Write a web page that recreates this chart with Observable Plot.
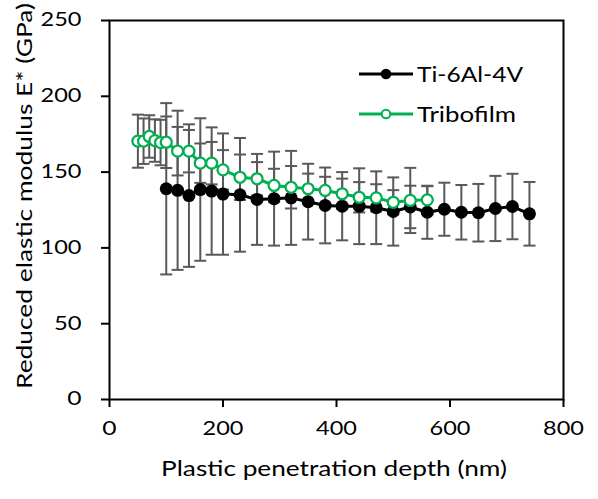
<!DOCTYPE html>
<html><head><meta charset="utf-8">
<script src="https://cdn.jsdelivr.net/npm/d3@7"></script>
<script src="https://cdn.jsdelivr.net/npm/@observablehq/plot@0.6"></script>
<style>
body{margin:0;background:#fff;}
#chart{position:relative;width:598px;height:499px;}
</style></head><body><div id="chart"></div>
<script>
const depthTi=[100,120,140,160,180,200,230,260,290,320,350,380,410,440,470,500,530,560,590,620,650,680,710,740];
const modTi=[139,138,134.5,138.5,137.5,135.5,135,132,132.5,133,130.5,128,127.5,127.5,126.5,124,127,123.5,125.5,123.5,123.2,126,127.3,122.5];
const errTi=[56.5,52.5,47,47,42,40,37.5,30,31,31,25,25,22.5,25,24,22.5,14,17.5,17.5,18,19,21.5,21.6,21];
const depthTf=[50,60,70,80,90,100,120,140,160,180,200,230,260,290,320,350,380,410,440,470,500,530,560];
const modTf=[170.4,170.4,173.5,170.8,169.5,169.7,163.8,163.8,155.9,155.9,151.5,146.6,145.6,141.2,140,139,137.9,135.7,133.4,133,130.1,131.3,131.7];
const errTf=[17.5,15,14,14,15,17,16,14,13,14,13,15,11,11,14,10,9,10,10,9,8,21.5,9];
const seriesNames=["Ti-6Al-4V","Tribofilm"];
const xTicks=[0,200,400,600,800];
const yTicks=[0,50,100,150,200,250];
const xTitle="Plastic penetration depth (nm)";
const yTitle="Reduced elastic modulus E* (GPa)";

const ti=depthTi.map((x,i)=>({x,y:modTi[i],e:errTi[i]}));
const tf=depthTf.map((x,i)=>({x,y:modTf[i],e:errTf[i]}));
const green="#00B050", grey="#595959";
const cap={draw(ctx,size){const w=Math.sqrt(size/Math.PI);ctx.moveTo(-w,0);ctx.lineTo(w,0);}};
const errMarks=data=>[
  Plot.ruleX(data,{x:"x",y1:d=>d.y-d.e,y2:d=>d.y+d.e,stroke:grey,strokeWidth:2}),
  Plot.dot(data,{x:"x",y:d=>d.y+d.e,symbol:cap,r:6,fill:"none",stroke:grey,strokeWidth:2}),
  Plot.dot(data,{x:"x",y:d=>d.y-d.e,symbol:cap,r:6,fill:"none",stroke:grey,strokeWidth:2})
];
const chart=Plot.plot({
  width:598,height:499,marginLeft:109,marginRight:35,marginTop:20,marginBottom:100,
  style:{fontFamily:"Lato, sans-serif",fontSize:"18.5px",color:"#000",background:"#fff",overflow:"visible"},
  x:{domain:[0,800]}, y:{domain:[0,250]},
  marks:[
    ...errMarks(ti),...errMarks(tf),
    Plot.line(ti,{x:"x",y:"y",stroke:"#000",strokeWidth:3}),
    Plot.dot(ti,{x:"x",y:"y",r:6.5,fill:"#000"}),
    Plot.line(tf,{x:"x",y:"y",stroke:green,strokeWidth:3}),
    Plot.dot(tf,{x:"x",y:"y",r:5.5,fill:"#fff",stroke:green,strokeWidth:2.25}),
    Plot.frame({stroke:"#000",strokeWidth:2}),
    Plot.axisX({ticks:xTicks,tickSize:8,tickPadding:14,label:null,strokeWidth:2,fontSize:18.5}),
    Plot.axisY({ticks:yTicks,tickSize:8,tickPadding:20,label:null,strokeWidth:2,fontSize:18.5})
  ]
});
document.getElementById("chart").appendChild(chart);
const svg=d3.select(chart);
// stretch tick labels to the reference's wide lettering
svg.selectAll('g[aria-label="x-axis tick label"] text, g[aria-label="y-axis tick label"] text').each(function(){
  const n=this.textContent.length;
  this.setAttribute("textLength",n*13.3+1);
  this.setAttribute("lengthAdjust","spacingAndGlyphs");
});
svg.append("text").attr("x",334).attr("y",476).attr("text-anchor","middle")
  .attr("textLength",346).attr("lengthAdjust","spacingAndGlyphs")
  .style("font-size","21px").attr("fill","#000").text(xTitle);
svg.append("text").attr("transform","translate(32,196) rotate(-90)").attr("text-anchor","middle")
  .attr("textLength",386).attr("lengthAdjust","spacingAndGlyphs")
  .style("font-size","22px").attr("fill","#000").text(yTitle);
// legend
const lg=svg.append("g");
const rows=[{name:seriesNames[0],y:74,color:"#000",fill:"#000",len:106},{name:seriesNames[1],y:114,color:green,fill:"#fff",len:99}];
rows.forEach(r=>{
  lg.append("line").attr("x1",359).attr("x2",413).attr("y1",r.y).attr("y2",r.y).attr("stroke",r.color).attr("stroke-width",3);
  lg.append("circle").attr("cx",386).attr("cy",r.y).attr("r",4.3).attr("fill",r.fill).attr("stroke",r.color).attr("stroke-width",2);
  lg.append("text").attr("x",417).attr("y",r.y+7.5).attr("text-anchor","start")
    .attr("textLength",r.len).attr("lengthAdjust","spacingAndGlyphs")
    .style("font-size","20.5px").attr("fill","#000").text(r.name);
});
</script></body></html>
